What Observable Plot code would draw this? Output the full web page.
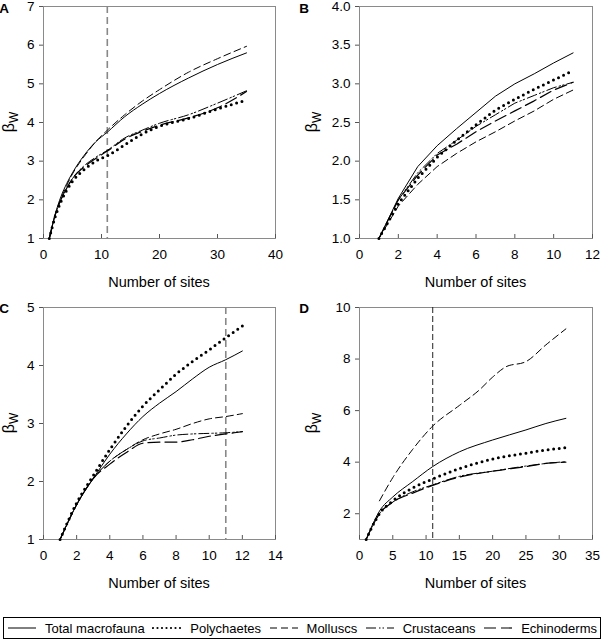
<!DOCTYPE html>
<html>
<head>
<meta charset="utf-8">
<script src="https://cdn.jsdelivr.net/npm/d3@7"></script>
<script src="https://cdn.jsdelivr.net/npm/@observablehq/plot@0.6"></script>
<style>
  html, body { margin: 0; padding: 0; background: #fff; }
  #root { position: relative; width: 605px; height: 641px; font-family: "Liberation Sans", Arial, sans-serif; }
  .panel { position: absolute; }
  #legend { position: absolute; left: 3px; top: 617px; width: 598px; height: 22px; border: 1px solid #000;
    display: flex; align-items: center; justify-content: space-between; padding: 0 3px 0 3px; box-sizing: border-box;
    font-size: 13px; color: #000; }
  .item { display: flex; align-items: center; white-space: nowrap; }
  .item svg { margin-right: 8px; }
</style>
</head>
<body>
<div id="root"></div>
<script>
// ---------- data ----------
const seriesNames = ["Total macrofauna", "Polychaetes", "Molluscs", "Crustaceans", "Echinoderms"];

// Panel A
const xA = [1, 2, 3, 4, 5, 7, 9, 11, 14, 17, 20, 25, 30, 35];
const totalA = [1.0, 1.62, 2.08, 2.42, 2.7, 3.15, 3.5, 3.75, 4.15, 4.47, 4.75, 5.15, 5.5, 5.8];
const polyA  = [1.0, 1.55, 1.95, 2.25, 2.48, 2.78, 3.0, 3.14, 3.42, 3.7, 3.9, 4.1, 4.35, 4.58];
const mollA  = [1.0, 1.6, 2.02, 2.37, 2.67, 3.12, 3.5, 3.8, 4.2, 4.55, 4.85, 5.3, 5.65, 5.97];
const crustA = [1.0, 1.6, 2.0, 2.3, 2.55, 2.88, 3.1, 3.28, 3.6, 3.8, 3.98, 4.2, 4.5, 4.82];
const echinA = [1.0, 1.6, 2.0, 2.3, 2.55, 2.85, 3.07, 3.26, 3.57, 3.77, 3.93, 4.12, 4.38, 4.8];
const xTicksA = [0, 10, 20, 30, 40];
const yTicksA = [1, 2, 3, 4, 5, 6, 7];
const refA = [11];

// Panel B
const xB = [1, 2, 3, 4, 5, 6, 7, 8, 9, 10, 11];
const totalB = [1, 1.52, 1.93, 2.2, 2.42, 2.63, 2.84, 3.0, 3.13, 3.27, 3.4];
const polyB  = [1, 1.45, 1.78, 2.05, 2.27, 2.47, 2.66, 2.8, 2.93, 3.05, 3.17];
const mollB  = [1, 1.42, 1.7, 1.93, 2.1, 2.25, 2.38, 2.52, 2.65, 2.8, 2.92];
const crustB = [1, 1.5, 1.85, 2.1, 2.27, 2.45, 2.6, 2.75, 2.85, 2.95, 3.02];
const echinB = [1, 1.5, 1.82, 2.08, 2.22, 2.38, 2.52, 2.65, 2.78, 2.92, 3.02];
const xTicksB = [0, 2, 4, 6, 8, 10, 12];
const yTicksB = [1.0, 1.5, 2.0, 2.5, 3.0, 3.5, 4.0];

// Panel C
const xC = [1, 2, 3, 4, 5, 6, 7, 8, 9, 10, 11, 12];
const totalC = [1, 1.6, 2.05, 2.47, 2.82, 3.12, 3.35, 3.55, 3.77, 3.97, 4.1, 4.25];
const polyC  = [1, 1.63, 2.1, 2.55, 2.95, 3.3, 3.58, 3.85, 4.07, 4.27, 4.48, 4.68];
const mollC  = [1, 1.6, 2.05, 2.35, 2.55, 2.72, 2.82, 2.9, 3.0, 3.08, 3.12, 3.17];
const crustC = [1, 1.6, 2.05, 2.35, 2.55, 2.7, 2.75, 2.8, 2.82, 2.83, 2.84, 2.86];
const echinC = [1, 1.6, 2.05, 2.3, 2.5, 2.66, 2.68, 2.68, 2.72, 2.78, 2.82, 2.86];
const xTicksC = [0, 2, 4, 6, 8, 10, 12, 14];
const yTicksC = [1, 2, 3, 4, 5];
const refC = [11];

// Panel D
const xD = [1, 2, 3, 5, 8, 11, 15, 20, 25, 28, 31];
const totalD = [1, 1.6, 2.1, 2.65, 3.25, 3.83, 4.4, 4.86, 5.25, 5.5, 5.7];
const polyD  = [1, 1.55, 2.0, 2.5, 3.0, 3.35, 3.75, 4.12, 4.35, 4.47, 4.56];
const xMollD = [3, 5, 8, 11, 15, 18, 20, 22, 25, 28, 31];
const mollD  = [2.5, 3.4, 4.5, 5.4, 6.2, 6.8, 7.3, 7.7, 7.9, 8.55, 9.17];
const crustD = [1, 1.55, 2.0, 2.45, 2.85, 3.12, 3.45, 3.65, 3.85, 3.95, 4.02];
const echinD = [1, 1.55, 2.0, 2.45, 2.8, 3.1, 3.42, 3.65, 3.83, 3.95, 4.0];
const xTicksD = [0, 5, 10, 15, 20, 25, 30, 35];
const yTicksD = [2, 4, 6, 8, 10];
const refD = [11];

// ---------- styles ----------
const styles = [
  {stroke: "#000", strokeWidth: 1},
  {stroke: "#000", strokeWidth: 3, strokeDasharray: "0 5.6", strokeLinecap: "round"},
  {stroke: "#000", strokeWidth: 1, strokeDasharray: "7 4"},
  {stroke: "#000", strokeWidth: 1, strokeDasharray: "10 3 1.5 2 1.5 3"},
  {stroke: "#000", strokeWidth: 1.2, strokeDasharray: "12 5"}
];

function rows(xs, ys) { return xs.map((x, i) => ({x, y: ys[i]})); }

function panel({letter, left, top, width, height, ml, mr, mt, mb, xDomain, yDomain, xTicks, yTicks, yFmt, ylx, series, ref, refStyle, curve}) {
  const marks = [Plot.frame({stroke: "#8a8a8a"})];
  if (ref) marks.push(Plot.ruleX(ref, refStyle));
  series.forEach((s, i) => {
    marks.push(Plot.line(rows(s[0], s[1]), {x: "x", y: "y", curve, ...styles[i]}));
  });
  marks.push(Plot.axisX(xTicks, {tickSize: -4, tickPadding: 15, label: null, tickFormat: d3.format("d"), stroke: "#555", fill: "#000"}));
  marks.push(Plot.axisY(yTicks, {tickSize: 4, tickPadding: 5, label: null, tickFormat: yFmt, stroke: "#555", fill: "#000"}));
  const svg = Plot.plot({
    width, height, marginLeft: ml, marginRight: mr, marginTop: mt, marginBottom: mb,
    x: {domain: xDomain}, y: {domain: yDomain},
    style: {fontFamily: "'Liberation Sans', Arial, sans-serif", fontSize: "13.5px", color: "#000", background: "transparent", overflow: "visible"},
    marks
  });
  const s = d3.select(svg);
  const cx = ml + (width - ml - mr) / 2;
  const cy = mt + (height - mt - mb) / 2;
  s.append("text").attr("x", cx).attr("y", height - mb + 49).attr("text-anchor", "middle")
    .attr("font-size", "14.5px").attr("fill", "#000").text("Number of sites");
  const yl = s.append("text").attr("transform", `translate(${ylx},${cy}) rotate(-90)`)
    .attr("text-anchor", "middle").attr("font-size", "16px").attr("fill", "#000");
  yl.append("tspan").text("β");
  yl.append("tspan").attr("font-size", "12px").attr("dy", "4").text("W");
  s.append("text").attr("x", 4).attr("y", 13).attr("font-size", "13.5px").attr("font-weight", "bold")
    .attr("fill", "#000").text(letter);
  const div = document.createElement("div");
  div.className = "panel";
  div.style.left = left + "px";
  div.style.top = top + "px";
  div.appendChild(svg);
  document.getElementById("root").appendChild(div);
}

const refGray = {stroke: "#888", strokeWidth: 1.6, strokeDasharray: "7 4"};
const refDark = {stroke: "#222", strokeWidth: 1, strokeDasharray: "6 3"};
const intFmt = d3.format("d");

panel({letter: "A", left: 0, top: 0, width: 300, height: 300, ml: 43, mr: 25, mt: 6, mb: 62,
  xDomain: [0, 40], yDomain: [1, 7], xTicks: xTicksA, yTicks: yTicksA, yFmt: intFmt, ylx: 14,
  series: [[xA, totalA], [xA, polyA], [xA, mollA], [xA, crustA], [xA, echinA]],
  ref: refA, refStyle: refGray, curve: "monotone-x"});

panel({letter: "B", left: 300, top: 0, width: 305, height: 300, ml: 59, mr: 13, mt: 6, mb: 62,
  xDomain: [0, 12], yDomain: [1, 4], xTicks: xTicksB, yTicks: yTicksB, yFmt: d3.format(".1f"), ylx: 17,
  series: [[xB, totalB], [xB, polyB], [xB, mollB], [xB, crustB], [xB, echinB]],
  curve: "linear"});

panel({letter: "C", left: 0, top: 300, width: 300, height: 300, ml: 43, mr: 25, mt: 7, mb: 61,
  xDomain: [0, 14], yDomain: [1, 5], xTicks: xTicksC, yTicks: yTicksC, yFmt: intFmt, ylx: 14,
  series: [[xC, totalC], [xC, polyC], [xC, mollC], [xC, crustC], [xC, echinC]],
  ref: refC, refStyle: refGray, curve: "monotone-x"});

panel({letter: "D", left: 300, top: 300, width: 305, height: 300, ml: 59, mr: 13, mt: 7, mb: 61,
  xDomain: [0, 35], yDomain: [1, 10], xTicks: xTicksD, yTicks: yTicksD, yFmt: intFmt, ylx: 17,
  series: [[xD, totalD], [xD, polyD], [xMollD, mollD], [xD, crustD], [xD, echinD]],
  ref: refD, refStyle: refDark, curve: "monotone-x"});

// ---------- legend ----------
const legend = document.createElement("div");
legend.id = "legend";
seriesNames.forEach((name, i) => {
  const item = document.createElement("div");
  item.className = "item";
  const st = styles[i];
  const sw = d3.create("svg").attr("width", 30).attr("height", 8);
  sw.append("line").attr("x1", 1).attr("x2", 29).attr("y1", 4).attr("y2", 4)
    .attr("stroke", st.stroke).attr("stroke-width", Math.min(st.strokeWidth, 2.2))
    .attr("stroke-dasharray", i === 1 ? "0 4.5" : (st.strokeDasharray || null))
    .attr("stroke-linecap", st.strokeLinecap || null);
  item.appendChild(sw.node());
  const t = document.createElement("span");
  t.textContent = name;
  item.appendChild(t);
  legend.appendChild(item);
});
document.getElementById("root").appendChild(legend);
</script>
</body>
</html>
